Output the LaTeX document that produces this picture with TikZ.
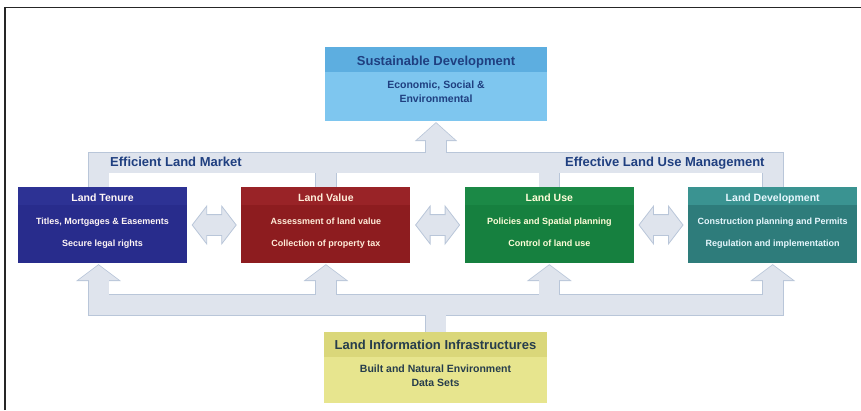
\documentclass[tikz,border=0pt]{standalone}
\usepackage{fontspec}
\setmainfont{Liberation Sans}
\usetikzlibrary{positioning, calc, shapes.arrows, backgrounds}

\definecolor{sustainbody}{HTML}{7EC6EF}
\definecolor{sustainhead}{HTML}{5DAEE0}
\definecolor{infobody}{HTML}{E7E58E}
\definecolor{infohead}{HTML}{DAD77A}
\definecolor{tenurecol}{HTML}{282C8C}
\definecolor{tenurehead}{HTML}{2D3294}
\definecolor{valuecol}{HTML}{8D1C1F}
\definecolor{valuehead}{HTML}{992327}
\definecolor{usecol}{HTML}{16803F}
\definecolor{usehead}{HTML}{1B8946}
\definecolor{developcol}{HTML}{2E7C7B}
\definecolor{develophead}{HTML}{3A9391}
\definecolor{navytext}{HTML}{1F3F80}
\definecolor{slatetext}{HTML}{263D4C}
\definecolor{arrfill}{HTML}{DFE4ED}
\definecolor{arrline}{HTML}{B9C6D9}

\tikzset{
  box/.style n args={3}{fill=#1, inner sep=0pt, minimum width=169pt, minimum height=76pt,
    path picture={\fill[#2] (path picture bounding box.north west) rectangle ([yshift=-#3]path picture bounding box.north east);}},
  ltitle/.style={font=\bfseries\fontsize{10.5}{12}\selectfont, inner sep=0pt, anchor=base},
  ltext/.style={font=\bfseries\fontsize{9}{11}\selectfont, inner sep=0pt, anchor=base},
  btitle/.style={font=\bfseries\fontsize{13}{15}\selectfont, inner sep=0pt, anchor=base},
  btext/.style={font=\bfseries\fontsize{10.5}{12}\selectfont, inner sep=0pt, anchor=base},
  barlabel/.style={font=\bfseries\fontsize{13}{15}\selectfont, text=navytext, inner sep=0pt, anchor=base west},
  barout/.style={draw=arrline, line width=21.6pt},
  barin/.style={draw=arrfill, line width=20pt},
  headout/.style={draw=arrline, fill=arrline, line width=1.6pt},
  headin/.style={fill=arrfill},
  dblarr/.style={double arrow, draw=arrline, fill=arrfill, line width=0.8pt, inner xsep=0pt, inner ysep=10pt,
    minimum height=44pt, double arrow head extend=8.5pt, double arrow tip angle=105},
}

\begin{document}
\begin{tikzpicture}[x=1pt, y=-1pt]

\useasboundingbox (0,0) rectangle (861,410);
\draw[line width=1.3pt, black!85] (5,410) -- (5,7.5) -- (861,7.5);

% the four pillars in a row, the two others above and below
\node[box={tenurecol}{tenurehead}{18pt}] (tenure) at (102.5,225) {};
\node[box={valuecol}{valuehead}{18pt}, right=54pt of tenure] (value) {};
\node[box={usecol}{usehead}{18pt}, right=54pt of value] (use) {};
\node[box={developcol}{develophead}{18pt}, right=54pt of use] (develop) {};
\node[box={sustainbody}{sustainhead}{25pt}, minimum width=222pt, minimum height=74pt] (sustain) at (436,84) {};
\node[box={infobody}{infohead}{25pt}, minimum width=223pt, minimum height=71pt] (info) at (435.5,367.5) {};

\coordinate (topbar) at (0,162.5);
\coordinate (botbar) at (0,305);
\coordinate (tenurestem) at ([xshift=-4pt]tenure.north);
\coordinate (tenurefoot) at ([xshift=-4pt]tenure.south);

% block arrows behind the boxes: borders first, fills on top
\begin{scope}[on background layer]
\foreach \barstyle/\headstyle in {barout/headout, barin/headin} {
  \draw[\barstyle] (tenurestem) -- (tenurestem |- topbar) -- (develop.north |- topbar) -- (develop.north);
  \draw[\barstyle] (value.north) -- (value.north |- topbar);
  \draw[\barstyle] (use.north) -- (use.north |- topbar);
  \draw[\barstyle] (sustain.south |- topbar) -- ([yshift=-17pt]sustain.south);
  \path[\headstyle] ([yshift=-2pt]sustain.south) -- ++(-19,17) -- ++(38,0) -- cycle;

  \draw[\barstyle] ([yshift=-15pt]tenurefoot) -- (tenurefoot |- botbar) -- (develop.south |- botbar) -- ([yshift=-15pt]develop.south);
  \draw[\barstyle] ([yshift=-15pt]value.south) -- (value.south |- botbar);
  \draw[\barstyle] ([yshift=-15pt]use.south) -- (use.south |- botbar);
  \draw[\barstyle] (info.north) -- (info.north |- botbar);
  \foreach \foot in {tenurefoot, value.south, use.south, develop.south}
    \path[\headstyle] ([yshift=-2pt]\foot) -- ++(-20,15) -- ++(40,0) -- cycle;
}
\end{scope}

\node[dblarr] (tenurevalue) at ($(tenure.east)!0.5!(value.west)$) {};
\node[dblarr] (valueuse) at ($(value.east)!0.5!(use.west)$) {};
\node[dblarr] (usedevelop) at ($(use.east)!0.5!(develop.west)$) {};

\node[barlabel] (marketlabel) at (110,166.5) {Efficient Land Market};
\node[barlabel] (managelabel) at (565,166.5) {Effective Land Use Management};

\node[btitle, text=navytext] (sustainT) at ([yshift=-18.5pt]sustain.north) {Sustainable Development};
\node[btext, text=navytext] (sustainA) at ([yshift=-42pt]sustain.north) {Economic, Social \&};
\node[btext, text=navytext] (sustainB) at ([yshift=-56pt]sustain.north) {Environmental};

\node[ltitle, text=pink!15] (tenureT) at ([yshift=-15pt]tenure.north) {Land Tenure};
\node[ltext, text=pink!15] (tenureA) at ([yshift=-38pt]tenure.north) {Titles, Mortgages \& Easements};
\node[ltext, text=pink!15] (tenureB) at ([yshift=-60pt]tenure.north) {Secure legal rights};

\node[ltitle, text=orange!15] (valueT) at ([yshift=-15pt]value.north) {Land Value};
\node[ltext, text=orange!15] (valueA) at ([yshift=-38pt]value.north) {Assessment of land value};
\node[ltext, text=orange!15] (valueB) at ([yshift=-60pt]value.north) {Collection of property tax};

\node[ltitle, text=yellow!15] (useT) at ([yshift=-15pt]use.north) {Land Use};
\node[ltext, text=yellow!15] (useA) at ([yshift=-38pt]use.north) {Policies and Spatial planning};
\node[ltext, text=yellow!15] (useB) at ([yshift=-60pt]use.north) {Control of land use};

\node[ltitle, text=cyan!10] (developT) at ([yshift=-15pt]develop.north) {Land Development};
\node[ltext, text=cyan!10] (developA) at ([yshift=-38pt]develop.north) {Construction planning and Permits};
\node[ltext, text=cyan!10] (developB) at ([yshift=-60pt]develop.north) {Regulation and implementation};

\node[btitle, text=slatetext] (infoT) at ([yshift=-17.5pt]info.north) {Land Information Infrastructures};
\node[btext, text=slatetext] (infoA) at ([yshift=-41pt]info.north) {Built and Natural Environment};
\node[btext, text=slatetext] (infoB) at ([yshift=-55pt]info.north) {Data Sets};

\end{tikzpicture}
\end{document}
